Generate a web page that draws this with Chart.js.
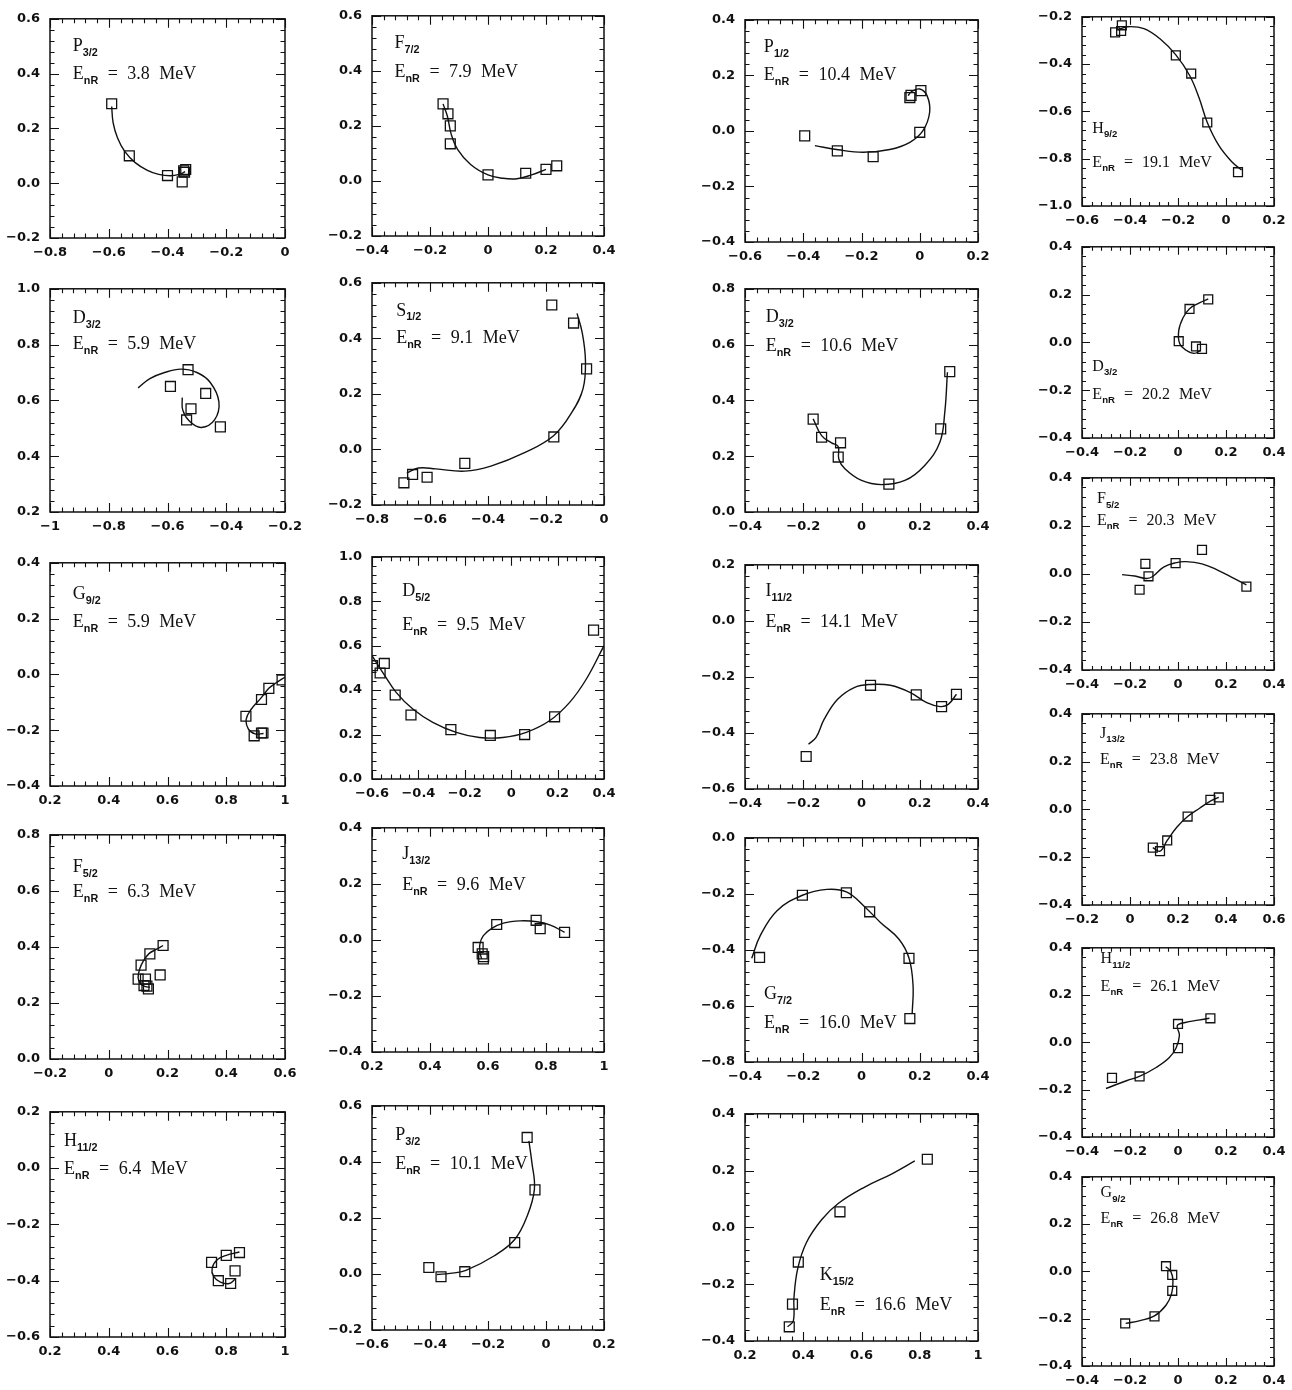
<!DOCTYPE html>
<html>
<head>
<meta charset="utf-8">
<title>Resonance loci</title>
<script src="https://cdn.jsdelivr.net/npm/chart.js@4.4.1/dist/chart.umd.min.js"></script>
<style>
  html, body { margin: 0; padding: 0; background: #fff; }
  #page { position: relative; width: 1292px; height: 1390px; overflow: hidden; background: #fff; }
  #page canvas { position: absolute; }
  .lab { position: absolute; font-family: "Liberation Serif", "Times New Roman", serif; color: #111;
         white-space: nowrap; line-height: 1; word-spacing: 5px; }
  .lab sub { font-family: "Liberation Sans", Arial, sans-serif; font-weight: bold; font-size: 0.6em;
             vertical-align: baseline; position: relative; top: 0.45em; word-spacing: 0; }
</style>
</head>
<body>
<div id="page"></div>
<script>
/* Partial-wave resonance loci: 21 panels, column by column */

const waves    = ['P', 'D', 'G', 'F', 'H',  'F', 'S', 'D', 'J', 'P',  'P', 'D', 'I', 'G', 'K',  'H', 'D', 'F', 'J', 'H', 'G'];
const waveSubs = ['3/2', '3/2', '9/2', '5/2', '11/2',  '7/2', '1/2', '5/2', '13/2', '3/2',
                  '1/2', '3/2', '11/2', '7/2', '15/2',  '9/2', '3/2', '5/2', '13/2', '11/2', '9/2'];
const energies = ['3.8', '5.9', '5.9', '6.3', '6.4',  '7.9', '9.1', '9.5', '9.6', '10.1',
                  '10.4', '10.6', '14.1', '16.0', '16.6',  '19.1', '20.2', '20.3', '23.8', '26.1', '26.8'];

const xMin = [-0.8, -1, 0.2, -0.2, 0.2,  -0.4, -0.8, -0.6, 0.2, -0.6,  -0.6, -0.4, -0.4, -0.4, 0.2,  -0.6, -0.4, -0.4, -0.2, -0.4, -0.4];
const xMax = [0, -0.2, 1, 0.6, 1,  0.4, 0, 0.4, 1, 0.2,  0.2, 0.4, 0.4, 0.4, 1,  0.2, 0.4, 0.4, 0.6, 0.4, 0.4];
const yMin = [-0.2, 0.2, -0.4, 0, -0.6,  -0.2, -0.2, 0, -0.4, -0.2,  -0.4, 0, -0.6, -0.8, -0.4,  -1, -0.4, -0.4, -0.4, -0.4, -0.4];
const yMax = [0.6, 1, 0.4, 0.8, 0.2,  0.6, 0.6, 1, 0.4, 0.6,  0.4, 0.8, 0.2, 0, 0.4,  -0.2, 0.4, 0.4, 0.4, 0.4, 0.4];
const tickStep = 0.2;

// measured points (squares) and fitted curves, [x, y]
const pts_P32_38 = [[-0.59, 0.29], [-0.53, 0.10], [-0.40, 0.028], [-0.35, 0.005], [-0.345, 0.045], [-0.338, 0.05], [-0.342, 0.04]];
const fit_P32_38 = [[-0.59, 0.28], [-0.585, 0.22], [-0.57, 0.165], [-0.545, 0.115], [-0.51, 0.075], [-0.47, 0.048], [-0.43, 0.032], [-0.39, 0.027], [-0.36, 0.032], [-0.34, 0.042]];

const pts_D32_59 = [[-0.53, 0.71], [-0.59, 0.65], [-0.47, 0.625], [-0.52, 0.57], [-0.535, 0.53], [-0.42, 0.505]];
const fit_D32_59 = [[-0.70, 0.645], [-0.66, 0.678], [-0.61, 0.70], [-0.555, 0.712], [-0.50, 0.70], [-0.455, 0.665], [-0.425, 0.595], [-0.44, 0.53], [-0.485, 0.503], [-0.525, 0.525], [-0.548, 0.565], [-0.55, 0.61]];

const pts_G92_59 = [[0.99, -0.02], [0.945, -0.05], [0.92, -0.09], [0.867, -0.15], [0.895, -0.22], [0.92, -0.21], [0.925, -0.21]];
const fit_G92_59 = [[1.0, -0.01], [0.97, -0.03], [0.945, -0.05], [0.918, -0.085], [0.885, -0.125], [0.868, -0.16], [0.875, -0.195], [0.898, -0.213], [0.927, -0.212]];

const pts_F52_63 = [[0.185, 0.405], [0.14, 0.375], [0.11, 0.335], [0.175, 0.30], [0.10, 0.285], [0.125, 0.285], [0.12, 0.262], [0.13, 0.26], [0.135, 0.25]];
const fit_F52_63 = [[0.185, 0.405], [0.16, 0.39], [0.137, 0.376], [0.118, 0.35], [0.105, 0.32], [0.10, 0.29], [0.108, 0.268], [0.125, 0.258], [0.14, 0.256]];

const pts_H112_64 = [[0.75, -0.335], [0.80, -0.31], [0.845, -0.30], [0.83, -0.365], [0.773, -0.40], [0.815, -0.41]];
const fit_H112_64 = [[0.845, -0.298], [0.80, -0.31], [0.77, -0.325], [0.752, -0.355], [0.757, -0.385], [0.78, -0.405], [0.81, -0.41], [0.83, -0.395]];

const pts_F72_79 = [[-0.155, 0.28], [-0.138, 0.244], [-0.13, 0.20], [-0.13, 0.135], [0.0, 0.022], [0.13, 0.028], [0.20, 0.042], [0.237, 0.055]];
const fit_F72_79 = [[-0.155, 0.28], [-0.14, 0.235], [-0.127, 0.17], [-0.105, 0.115], [-0.06, 0.06], [0.0, 0.022], [0.05, 0.01], [0.1, 0.008], [0.15, 0.022], [0.2, 0.042]];

const pts_S12_91 = [[-0.18, 0.52], [-0.105, 0.455], [-0.06, 0.29], [-0.173, 0.045], [-0.48, -0.05], [-0.61, -0.10], [-0.66, -0.09], [-0.69, -0.12]];
const fit_S12_91 = [[-0.093, 0.49], [-0.075, 0.42], [-0.064, 0.32], [-0.072, 0.22], [-0.11, 0.135], [-0.173, 0.05], [-0.27, -0.01], [-0.39, -0.06], [-0.48, -0.078], [-0.58, -0.07], [-0.64, -0.067], [-0.68, -0.085]];

const pts_D52_95 = [[0.355, 0.67], [-0.598, 0.51], [-0.547, 0.52], [-0.565, 0.477], [-0.50, 0.378], [-0.432, 0.288], [-0.26, 0.222], [-0.09, 0.196], [0.058, 0.20], [0.187, 0.28]];
const fit_D52_95 = [[-0.6, 0.555], [-0.554, 0.48], [-0.496, 0.39], [-0.424, 0.315], [-0.338, 0.255], [-0.237, 0.21], [-0.137, 0.187], [-0.036, 0.187], [0.065, 0.21], [0.165, 0.262], [0.252, 0.345], [0.324, 0.45], [0.40, 0.60]];

const pts_J132_96 = [[0.566, -0.027], [0.58, -0.05], [0.584, -0.068], [0.585, -0.06], [0.63, 0.055], [0.766, 0.07], [0.78, 0.04], [0.864, 0.027]];
const fit_J132_96 = [[0.864, 0.027], [0.815, 0.053], [0.769, 0.065], [0.711, 0.068], [0.653, 0.06], [0.613, 0.041], [0.584, 0.015], [0.572, -0.015], [0.572, -0.044], [0.578, -0.068]];

const pts_P32_101 = [[-0.065, 0.487], [-0.038, 0.30], [-0.108, 0.112], [-0.28, 0.008], [-0.404, 0.023], [-0.362, -0.01]];
const fit_P32_101 = [[-0.059, 0.475], [-0.049, 0.40], [-0.04, 0.302], [-0.066, 0.204], [-0.108, 0.123], [-0.178, 0.065], [-0.276, 0.013], [-0.331, 0.002], [-0.376, -0.002]];

const pts_P12_104 = [[-0.395, -0.018], [-0.283, -0.072], [-0.16, -0.093], [0.0, -0.005], [-0.034, 0.12], [-0.03, 0.128], [0.004, 0.145]];
const fit_P12_104 = [[-0.36, -0.053], [-0.28, -0.068], [-0.194, -0.077], [-0.103, -0.067], [-0.034, -0.041], [0.011, 0.001], [0.034, 0.067], [0.025, 0.127], [0.0, 0.151], [-0.029, 0.141], [-0.04, 0.127]];

const pts_D32_106 = [[-0.166, 0.333], [-0.137, 0.268], [-0.072, 0.248], [-0.08, 0.197], [0.094, 0.10], [0.272, 0.298], [0.303, 0.503]];
const fit_D32_106 = [[-0.166, 0.334], [-0.137, 0.274], [-0.103, 0.248], [-0.08, 0.235], [-0.078, 0.19], [-0.057, 0.155], [0.0, 0.113], [0.069, 0.098], [0.149, 0.113], [0.217, 0.167], [0.269, 0.25], [0.286, 0.358], [0.295, 0.501]];

const pts_I112_141 = [[-0.19, -0.484], [0.031, -0.23], [0.188, -0.264], [0.275, -0.306], [0.326, -0.262]];
const fit_I112_141 = [[-0.182, -0.44], [-0.156, -0.416], [-0.128, -0.351], [-0.082, -0.28], [-0.025, -0.238], [0.031, -0.227], [0.099, -0.23], [0.168, -0.256], [0.224, -0.292], [0.27, -0.306], [0.298, -0.298], [0.326, -0.262]];

const pts_G72_160 = [[-0.35, -0.427], [-0.203, -0.205], [-0.052, -0.196], [0.028, -0.264], [0.163, -0.43], [0.166, -0.645]];
const fit_G72_160 = [[-0.377, -0.43], [-0.348, -0.35], [-0.29, -0.26], [-0.203, -0.205], [-0.119, -0.184], [-0.052, -0.193], [0.008, -0.243], [0.065, -0.302], [0.128, -0.361], [0.163, -0.429], [0.177, -0.527], [0.174, -0.628]];

const pts_K152_166 = [[0.826, 0.24], [0.526, 0.055], [0.383, -0.122], [0.363, -0.27], [0.352, -0.35]];
const fit_K152_166 = [[0.346, -0.35], [0.366, -0.329], [0.368, -0.249], [0.381, -0.145], [0.411, -0.053], [0.463, 0.027], [0.52, 0.084], [0.611, 0.142], [0.703, 0.188], [0.783, 0.234]];

const pts_H92_191 = [[-0.462, -0.266], [-0.437, -0.26], [-0.434, -0.236], [-0.209, -0.363], [-0.145, -0.44], [-0.078, -0.647], [0.05, -0.857]];
const fit_H92_191 = [[-0.45, -0.255], [-0.41, -0.242], [-0.342, -0.25], [-0.274, -0.294], [-0.209, -0.361], [-0.152, -0.447], [-0.112, -0.543], [-0.078, -0.647], [-0.03, -0.744], [0.024, -0.813], [0.065, -0.848]];

const pts_D32_202 = [[0.126, 0.18], [0.048, 0.14], [0.003, 0.005], [0.075, -0.017], [0.1, -0.027]];
const fit_D32_202 = [[0.126, 0.182], [0.089, 0.165], [0.048, 0.141], [0.021, 0.103], [0.003, 0.049], [0.007, -0.005], [0.034, -0.033], [0.068, -0.046], [0.095, -0.033]];

const pts_F52_203 = [[-0.136, 0.042], [-0.123, -0.01], [-0.16, -0.066], [-0.01, 0.045], [0.1, 0.10], [0.285, -0.053]];
const fit_F52_203 = [[-0.233, -0.003], [-0.18, -0.009], [-0.133, -0.019], [-0.107, -0.012], [-0.06, 0.028], [-0.011, 0.046], [0.033, 0.051], [0.1, 0.042], [0.167, 0.015], [0.233, -0.019], [0.285, -0.046]];

const pts_J132_238 = [[0.095, -0.16], [0.125, -0.175], [0.155, -0.13], [0.24, -0.03], [0.335, 0.04], [0.37, 0.05]];
const fit_J132_238 = [[0.095, -0.16], [0.125, -0.175], [0.155, -0.13], [0.195, -0.075], [0.24, -0.03], [0.29, 0.005], [0.335, 0.035], [0.37, 0.05]];

const pts_H112_261 = [[0.135, 0.102], [0.0, 0.078], [0.0, -0.024], [-0.16, -0.144], [-0.275, -0.15]];
const fit_H112_261 = [[-0.3, -0.195], [-0.212, -0.161], [-0.161, -0.144], [-0.091, -0.106], [-0.037, -0.065], [-0.008, -0.024], [0.006, 0.03], [-0.003, 0.071], [0.03, 0.084], [0.084, 0.094], [0.131, 0.102]];

const pts_G92_268 = [[-0.05, 0.022], [-0.024, -0.015], [-0.024, -0.082], [-0.098, -0.19], [-0.22, -0.22]];
const fit_G92_268 = [[-0.051, 0.02], [-0.03, 0.0], [-0.021, -0.041], [-0.027, -0.095], [-0.05, -0.143], [-0.098, -0.188], [-0.158, -0.208], [-0.218, -0.22]];

const pointSets = [pts_P32_38, pts_D32_59, pts_G92_59, pts_F52_63, pts_H112_64,
  pts_F72_79, pts_S12_91, pts_D52_95, pts_J132_96, pts_P32_101,
  pts_P12_104, pts_D32_106, pts_I112_141, pts_G72_160, pts_K152_166,
  pts_H92_191, pts_D32_202, pts_F52_203, pts_J132_238, pts_H112_261, pts_G92_268];
const fitSets = [fit_P32_38, fit_D32_59, fit_G92_59, fit_F52_63, fit_H112_64,
  fit_F72_79, fit_S12_91, fit_D52_95, fit_J132_96, fit_P32_101,
  fit_P12_104, fit_D32_106, fit_I112_141, fit_G72_160, fit_K152_166,
  fit_H92_191, fit_D32_202, fit_F52_203, fit_J132_238, fit_H112_261, fit_G92_268];

// layout: plot frame [left, top, right, bottom] in page px, label anchor [fx, fy line1, fy line2]
const frames = [
  [50, 13, 285, 238], [50, 283, 285, 512], [50, 557, 285, 786], [50, 829, 285, 1059], [50, 1106, 285, 1337],
  [372, 10, 604, 236], [372, 277, 604, 505], [372, 551, 604, 779], [372, 822, 604, 1052], [372, 1100, 604, 1330],
  [745, 14, 978, 242], [745, 283, 978, 512], [745, 559, 978, 789], [745, 832, 978, 1062], [745, 1108, 978, 1341],
  [1082, 11, 1274, 206], [1082, 241, 1274, 438], [1082, 472, 1274, 670], [1082, 708, 1274, 905], [1082, 942, 1274, 1137], [1082, 1171, 1274, 1366]
];
const labelAt = [
  [0.097, 0.169, 0.293], [0.097, 0.174, 0.289], [0.097, 0.185, 0.308], [0.097, 0.188, 0.296], [0.06, 0.175, 0.294],
  [0.097, 0.17, 0.298], [0.104, 0.17, 0.29], [0.13, 0.198, 0.348], [0.13, 0.163, 0.296], [0.10, 0.175, 0.30],
  [0.081, 0.169, 0.289], [0.089, 0.172, 0.296], [0.088, 0.163, 0.296], [0.082, 0.726, 0.852], [0.321, 0.739, 0.868],
  [0.054, 0.628, 0.80], [0.054, 0.66, 0.804], [0.078, 0.16, 0.27], [0.094, 0.154, 0.285], [0.097, 0.112, 0.253], [0.097, 0.137, 0.268]
];

const INK = '#111';
const page = document.getElementById('page');

const minus = (s) => s.replace('-', '\u2212');
const fmtX = (v) => minus(String(Math.round(v * 10) / 10));
const fmtY = (v) => minus((Math.round(v * 10) / 10).toFixed(1));

// frame box + inward major/minor ticks on all four sides
const frameTicks = {
  id: 'frameTicks',
  afterDatasetsDraw(chart, args, opts) {
    const { ctx, chartArea: a, scales: { x, y } } = chart;
    const marks = (scale) => {
      const t = scale.ticks.map((k) => k.value);
      const out = [];
      t.forEach((v, i) => {
        out.push([v, opts.major]);
        if (i < t.length - 1) for (let j = 1; j < 5; j++) out.push([v + (t[i + 1] - v) * j / 5, opts.minor]);
      });
      return out;
    };
    ctx.save();
    ctx.strokeStyle = INK;
    ctx.lineWidth = 1.5;
    ctx.strokeRect(a.left, a.top, a.right - a.left, a.bottom - a.top);
    ctx.lineWidth = 1.1;
    ctx.beginPath();
    marks(x).forEach(([v, len]) => {
      const px = Math.round(x.getPixelForValue(v)) + 0.5;
      ctx.moveTo(px, a.bottom); ctx.lineTo(px, a.bottom - len);
      ctx.moveTo(px, a.top); ctx.lineTo(px, a.top + len);
    });
    marks(y).forEach(([v, len]) => {
      const py = Math.round(y.getPixelForValue(v)) + 0.5;
      ctx.moveTo(a.left, py); ctx.lineTo(a.left + len, py);
      ctx.moveTo(a.right, py); ctx.lineTo(a.right - len, py);
    });
    ctx.stroke();
    ctx.restore();
  }
};

const tickFont = { family: '"DejaVu Sans", sans-serif', weight: 'bold', size: 13 };

function addPanel(i) {
  const [L, T, R, B] = frames[i];
  const small = i >= 15;
  const padL = 56, padT = 12, padR = 24, padB = 30;
  const cv = document.createElement('canvas');
  cv.width = R - L + padL + padR;
  cv.height = B - T + padT + padB;
  cv.style.left = (L - padL) + 'px';
  cv.style.top = (T - padT) + 'px';
  page.appendChild(cv);

  new Chart(cv, {
    type: 'scatter',
    data: {
      datasets: [
        { data: fitSets[i].map(([x, y]) => ({ x, y })), showLine: true, tension: 0.4, pointRadius: 0,
          borderColor: INK, borderWidth: 1.4, fill: false },
        { data: pointSets[i].map(([x, y]) => ({ x, y })), showLine: false, pointStyle: 'rect',
          pointRadius: small ? 6.3 : 7, borderColor: INK, borderWidth: 1.3, backgroundColor: 'rgba(0,0,0,0)' }
      ]
    },
    options: {
      responsive: false, animation: false, devicePixelRatio: 1,
      layout: { padding: { left: 0, top: padT, right: padR, bottom: 0 } },
      plugins: { legend: { display: false }, tooltip: { enabled: false },
        frameTicks: { major: small ? 8 : 9, minor: small ? 4 : 4.5 } },
      scales: {
        x: { type: 'linear', min: xMin[i], max: xMax[i],
          grid: { display: false, drawTicks: false }, border: { display: false },
          ticks: { stepSize: tickStep, autoSkip: false, maxRotation: 0, padding: 7, color: INK, font: tickFont, callback: fmtX },
          afterFit: (s) => { s.height = padB; } },
        y: { type: 'linear', min: yMin[i], max: yMax[i],
          grid: { display: false, drawTicks: false }, border: { display: false },
          ticks: { stepSize: tickStep, autoSkip: false, padding: 10, color: INK, font: tickFont, callback: fmtY },
          afterFit: (s) => { s.width = padL; } }
      }
    },
    plugins: [frameTicks]
  });

  // wave + energy annotation
  const fs = small ? 16 : 18;
  const [fx, fy1, fy2] = labelAt[i];
  const left = L + fx * (R - L);
  const lines = [
    waves[i] + '<sub>' + waveSubs[i] + '</sub>',
    'E<sub>nR</sub> = ' + energies[i] + ' MeV'
  ];
  [fy1, fy2].forEach((fy, k) => {
    const d = document.createElement('div');
    d.className = 'lab';
    d.style.fontSize = fs + 'px';
    d.style.left = left + 'px';
    d.style.top = (T + fy * (B - T) - 0.84 * fs) + 'px';
    d.innerHTML = lines[k];
    page.appendChild(d);
  });
}

for (let i = 0; i < frames.length; i++) addPanel(i);
</script>
</body>
</html>
